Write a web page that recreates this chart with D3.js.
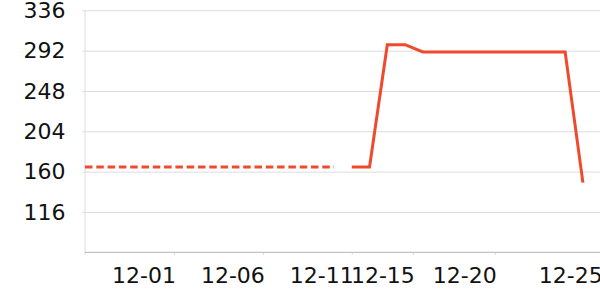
<!DOCTYPE html>
<html>
<head>
<meta charset="utf-8">
<script src="https://cdn.jsdelivr.net/npm/d3@7"></script>
<style>
  body { margin: 0; background: #fff; }
  svg { display: block; font-family: "DejaVu Sans", sans-serif; }
</style>
</head>
<body>
<svg></svg>
<script>
// Chart data
var parse = d3.timeParse("%Y-%m-%d %H:%M");
var dashedDates = ["2023-11-26", "2023-11-27", "2023-11-28", "2023-11-29", "2023-11-30",
    "2023-12-01", "2023-12-02", "2023-12-03", "2023-12-04", "2023-12-05", "2023-12-06",
    "2023-12-07", "2023-12-08", "2023-12-09", "2023-12-10"];
var dashedValues = [165, 165, 165, 165, 165, 165, 165, 165, 165, 165, 165, 165, 165, 165, 165];
var solidDates = ["2023-12-11", "2023-12-12", "2023-12-13", "2023-12-14", "2023-12-15",
    "2023-12-16", "2023-12-17", "2023-12-18", "2023-12-19", "2023-12-20", "2023-12-21",
    "2023-12-22", "2023-12-23", "2023-12-24"];
var solidValues = [165, 165, 298.5, 298.5, 290.5, 290.5, 290.5, 290.5, 290.5, 290.5, 290.5, 290.5, 290.5, 148];
var yTicks = [116, 160, 204, 248, 292, 336];
// tick positions as they sit in the picture, with their printed labels
var xTickTimes = ["2023-12-01 00:00", "2023-12-06 00:00", "2023-12-11 00:00",
    "2023-12-14 10:30", "2023-12-19 01:00", "2023-12-25 00:00"];
var xTickLabels = ["12-01", "12-06", "12-11", "12-15", "12-20", "12-25"];

var svgWidth = 600, svgHeight = 300;
var margin = {left: 85, top: 10.3, bottom: 47.7};
var lineColor = "#ef4a2d";

var svg = d3.select("svg")
    .attr("width", svgWidth)
    .attr("height", svgHeight);

function day(s) { return parse(s + " 00:00"); }

var x = d3.scaleTime()
    .domain([day("2023-11-26"), day("2023-12-25")])
    .range([margin.left, 600.7]);

var y = d3.scaleLinear()
    .domain([72, 336])
    .range([svgHeight - margin.bottom, margin.top]);

var plotBottom = svgHeight - margin.bottom;
var tickTimes = xTickTimes.map(parse);

// horizontal grid + y labels
var yAxis = d3.axisLeft(y)
    .tickValues(yTicks)
    .tickSize(-(svgWidth - margin.left) - 3)
    .tickPadding(17)
    .tickFormat(d3.format("d"));
var gy = svg.append("g")
    .attr("transform", "translate(" + (margin.left - 2.5) + ",0)")
    .call(yAxis);
gy.select(".domain").remove();
gy.selectAll(".tick line").attr("stroke", "#dcdcdc").attr("x1", 0).attr("x2", svgWidth);
gy.selectAll(".tick text")
    .attr("font-size", 22)
    .attr("font-family", "DejaVu Sans")
    .attr("fill", "#111");

// vertical grid + x labels
var xAxis = d3.axisBottom(x)
    .tickValues(tickTimes)
    .tickSize(-(plotBottom - margin.top))
    .tickFormat(function(d, i) { return xTickLabels[i]; });
var gx = svg.append("g")
    .attr("transform", "translate(0," + plotBottom + ")")
    .call(xAxis);
gx.select(".domain").remove();
gx.selectAll(".tick line").attr("stroke", "#dcdcdc").attr("y2", 2.7);
gx.selectAll(".tick text")
    .attr("text-anchor", "end")
    .attr("x", 1.5)
    .attr("y", 30.6)
    .attr("dy", 0)
    .attr("font-size", 22)
    .attr("font-family", "DejaVu Sans")
    .attr("fill", "#111");

// left edge line
svg.append("line")
    .attr("x1", margin.left).attr("x2", margin.left)
    .attr("y1", margin.top).attr("y2", plotBottom + 2.5)
    .attr("stroke", "#dcdcdc");

// bottom axis line
svg.append("line")
    .attr("x1", margin.left).attr("x2", svgWidth)
    .attr("y1", plotBottom).attr("y2", plotBottom)
    .attr("stroke", "#b4b4b4");

var line = d3.line()
    .x(function(d) { return x(d.date); })
    .y(function(d) { return y(d.value); });

var dashed = dashedDates.map(function(d, i) { return {date: day(d), value: dashedValues[i]}; });
var solid = solidDates.map(function(d, i) { return {date: day(d), value: solidValues[i]}; });

svg.append("path")
    .datum(dashed)
    .attr("d", line)
    .attr("fill", "none")
    .attr("stroke", lineColor)
    .attr("stroke-width", 3)
    .attr("stroke-dasharray", "7.5,3.8");

svg.append("path")
    .datum(solid)
    .attr("d", line)
    .attr("fill", "none")
    .attr("stroke", lineColor)
    .attr("stroke-width", 3)
    .attr("stroke-linejoin", "miter");
</script>
</body>
</html>
